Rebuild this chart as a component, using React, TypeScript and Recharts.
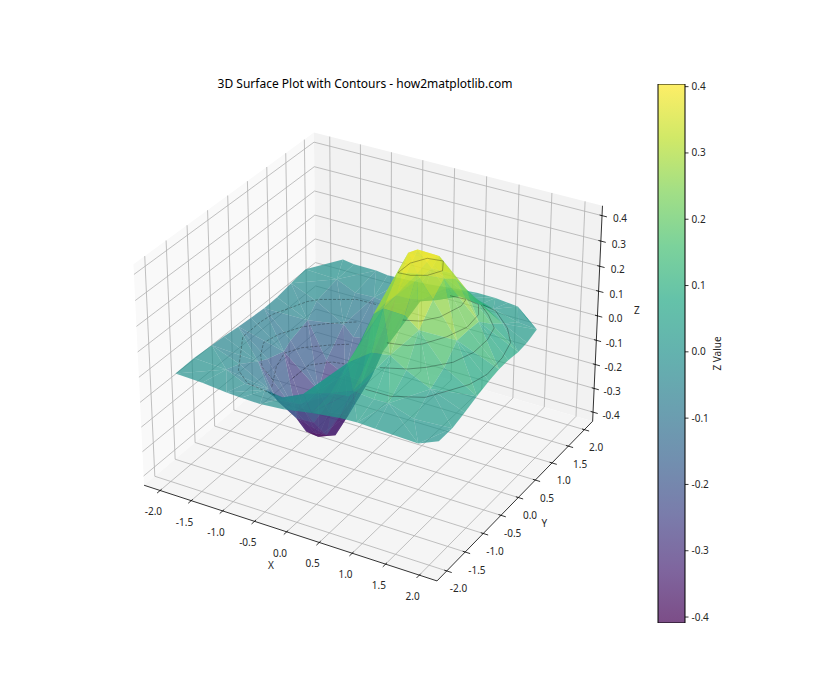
import {Bar, ComposedChart, Scatter, ScatterChart, XAxis, YAxis} from "recharts";

// axis limits and ticks
const xLim = [-2.26, 2.26]
const yLim = [-2.26, 2.26]
const zLim = [-0.4386, 0.4386]
const xyTicks = [-2, -1.5, -1, -0.5, 0, 0.5, 1, 1.5, 2]
const zTicks = [-0.4, -0.3, -0.2, -0.1, 0, 0.1, 0.2, 0.3, 0.4]
const barTicks = [-0.4, -0.3, -0.2, -0.1, 0, 0.1, 0.2, 0.3, 0.4]
const barRange = [-0.409, 0.404]

// surface vertices, one row per y band
const meshX = [
    [-1.9, -1.47, -1.08, -0.85, -0.55, -0.2, 0.2, 0.6, 0.85, 1.12, 1.75, 1.95],
    [-1.92, -1.43, -1.1, -0.82, -0.52, -0.23, 0.22, 0.53, 0.87, 1.06, 1.47, 1.96],
    [-1.93, -1.47, -1.06, -0.87, -0.57, -0.18, 0.18, 0.57, 0.83, 1.1, 1.43, 1.95],
    [-1.95, -1.43, -1.1, -0.83, -0.53, -0.22, 0.22, 0.53, 0.87, 1.06, 1.47, 1.94],
    [-1.95, -1.47, -1.06, -0.87, -0.57, -0.18, 0.18, 0.57, 0.83, 1.1, 1.43, 1.93],
    [-1.94, -1.43, -1.1, -0.8, -0.58, -0.22, 0.22, 0.53, 0.87, 1.06, 1.47, 1.92],
    [-1.92, -1.47, -1.06, -0.87, -0.57, -0.18, 0.18, 0.52, 0.83, 1.1, 1.43, 1.9],
    [-1.9, -1.43, -1.1, -0.83, -0.53, -0.22, 0.22, 0.53, 0.87, 1.06, 1.47, 1.87],
    [-1.91, -1.47, -1.06, -0.87, -0.57, -0.18, 0.18, 0.57, 0.83, 1.1, 1.43, 1.82],
    [-1.92, -1.43, -1.1, -0.83, -0.53, -0.22, 0.22, 0.53, 0.87, 1.06, 1.47, 1.73],
    [-1.6, -1.4, -1.05, -0.85, -0.55, -0.2, 0.2, 0.55, 0.85, 1.05, 1.21, 1.45],
]
const meshY = [
    [-1.93, -1.94, -1.96, -1.97, -1.98, -1.97, -1.92, -1.88, -1.86, -1.87, -1.87, -1.69],
    [-1.45, -1.42, -1.48, -1.43, -1.47, -1.42, -1.48, -1.43, -1.47, -1.42, -1.48, -1.35],
    [-1.0, -1.03, -0.97, -1.02, -0.98, -1.03, -0.97, -1.02, -0.98, -1.03, -0.97, -1.0],
    [-0.67, -0.63, -0.68, -0.64, -0.67, -0.63, -0.68, -0.64, -0.67, -0.63, -0.68, -0.65],
    [-0.3, -0.33, -0.28, -0.32, -0.28, -0.33, -0.28, -0.32, -0.28, -0.33, -0.27, -0.3],
    [0.01, 0.03, -0.02, -0.12, -0.02, 0.03, -0.02, 0.02, -0.01, 0.03, -0.02, 0.0],
    [0.32, 0.28, 0.33, 0.29, 0.32, 0.28, 0.33, 0.29, 0.32, 0.28, 0.33, 0.3],
    [0.63, 0.67, 0.62, 0.67, 0.63, 0.67, 0.62, 0.67, 0.63, 0.67, 0.62, 0.65],
    [1.02, 0.98, 1.03, 0.97, 1.02, 0.98, 1.03, 0.97, 1.02, 0.98, 1.03, 1.0],
    [1.43, 1.47, 1.42, 1.48, 1.43, 1.47, 1.42, 1.48, 1.43, 1.47, 1.42, 1.47],
    [1.93, 1.9, 1.92, 1.9, 1.91, 1.92, 1.93, 1.95, 1.93, 1.92, 1.91, 1.7],
]
const meshZ = [
    [-0.001, -0.004, -0.009, -0.011, -0.011, -0.005, 0.005, 0.011, 0.011, 0.009, 0.003, 0.002],
    [-0.004, -0.017, -0.04, -0.05, -0.052, -0.022, 0.024, 0.05, 0.05, 0.042, 0.021, 0.006],
    [-0.012, -0.049, -0.126, -0.15, -0.149, -0.07, 0.072, 0.148, 0.153, 0.122, 0.066, 0.019],
    [-0.02, -0.088, -0.218, -0.272, -0.264, -0.126, 0.124, 0.268, 0.27, 0.222, 0.115, 0.034],
    [-0.028, -0.12, -0.31, -0.375, -0.372, -0.174, 0.176, 0.37, 0.378, 0.305, 0.163, 0.046],
    [-0.03, -0.133, -0.334, -0.42, -0.409, -0.19, 0.193, 0.402, 0.404, 0.338, 0.176, 0.052],
    [-0.028, -0.122, -0.305, -0.378, -0.37, -0.176, 0.174, 0.382, 0.375, 0.31, 0.16, 0.047],
    [-0.02, -0.086, -0.222, -0.268, -0.268, -0.125, 0.127, 0.264, 0.272, 0.218, 0.118, 0.032],
    [-0.011, -0.05, -0.122, -0.153, -0.147, -0.072, 0.07, 0.15, 0.15, 0.126, 0.064, 0.02],
    [-0.004, -0.016, -0.042, -0.049, -0.05, -0.024, 0.022, 0.052, 0.05, 0.04, 0.023, 0.006],
    [-0.001, -0.004, -0.008, -0.011, -0.01, -0.005, 0.005, 0.01, 0.012, 0.009, 0.006, 0.003],
]

// contour lines: level, then x,y pairs along the line
const contours: {level: number, pts: number[][]}[] = [
    {level: -0.05, pts: [[-0.63, -1.48], [-1.11, -1.4], [-1.4, -1.17], [-1.83, -0.38], [-1.84, 0.09], [-1.81, 0.35], [-1.58, 0.91], [-1.46, 1.05], [-1.01, 1.31], [-0.68, 1.32]]},
    {level: -0.1, pts: [[-1.04, -0.88], [-1.35, -0.66], [-1.54, -0.39], [-1.68, -0.09], [-1.62, 0.21], [-1.45, 0.55], [-1.2, 0.8], [-0.85, 1.06]]},
    {level: -0.17, pts: [[-1.2, -0.66], [-1.43, -0.17], [-1.53, 0.2], [-1.4, 0.45], [-1.1, 0.71], [-0.87, 0.87]]},
    {level: -0.25, pts: [[-1.35, 0.12], [-1.34, 0.54], [-1.1, 0.78], [-0.92, 0.82]]},
    {level: 0.05, pts: [[0.65, -1.31], [1.02, -1.3], [1.42, -1.1], [1.59, -0.82], [1.76, -0.53], [1.84, -0.18], [1.81, 0.3], [1.72, 0.71], [1.5, 1.04], [1.14, 1.38], [0.91, 1.44]]},
    {level: 0.1, pts: [[0.7, -1.02], [1.03, -0.87], [1.22, -0.71], [1.46, -0.42], [1.57, -0.06], [1.57, 0.33], [1.5, 0.65], [1.27, 0.92], [1.05, 1.12]]},
    {level: 0.17, pts: [[0.69, -0.82], [0.96, -0.75], [1.11, -0.61], [1.29, -0.29], [1.4, 0.07], [1.37, 0.44], [1.24, 0.68], [1.05, 0.72]]},
    {level: 0.25, pts: [[0.84, -0.67], [1.05, -0.58], [1.22, -0.36], [1.32, 0.04], [1.29, 0.23], [1.06, 0.21]]},
    {level: 0.35, pts: [[0.5, -0.2], [0.51, 0.11], [0.64, 0.34], [0.86, 0.38], [0.98, 0.14], [0.87, -0.07], [0.68, -0.18], [0.5, -0.2]]},
]

const viridis = ["#440154", "#482475", "#414487", "#355f8d", "#2a788e", "#21918c", "#22a884", "#44bf70", "#7ad151", "#bddf26", "#fde725"]
const FONT = "'Noto Sans', sans-serif"

const hex = (c: string) => [1, 3, 5].map(i => parseInt(c.slice(i, i + 2), 16))

function cmap(t: number) {
    const v = Math.min(0.9999, Math.max(0, t)) * 10
    const i = Math.floor(v)
    const a = hex(viridis[i])
    const b = hex(viridis[i + 1])
    return `rgb(${a.map((n, k) => Math.round(n + (b[k] - n) * (v - i))).join(",")})`
}

// same view as a default 3D axes: elev 30, azim -60, camera distance 10
function project(x: number, y: number, z: number) {
    const bx = (x - (xLim[0] + xLim[1]) / 2) / (xLim[1] - xLim[0]) * 1.19
    const by = (y - (yLim[0] + yLim[1]) / 2) / (yLim[1] - yLim[0]) * 1.19
    const bz = (z - (zLim[0] + zLim[1]) / 2) / (zLim[1] - zLim[0]) * 0.893
    const xv = 0.866 * bx + 0.5 * by
    const yv = -0.25 * bx + 0.433 * by + 0.866 * bz
    const zv = 0.433 * bx - 0.75 * by + 0.5 * bz
    return {px: 372.5 + 2820 * xv / (10 - zv), py: 346 - 2820 * yv / (10 - zv), depth: zv}
}

const NoDot = () => null

function path(key: string, pts: number[][], line: any, closed = false) {
    return (
        <Scatter
            key={key}
            data={pts.map(p => project(p[0], p[1], p[2]))}
            isAnimationActive={false}
            legendType="none"
            line={line}
            lineJointType={closed ? "linearClosed" : "linear"}
            shape={NoDot}
        />
    )
}

function TextMark(props: any) {
    const {cx, cy, payload} = props
    return (
        <text dominantBaseline="central" fill="#262626" fontFamily={FONT} fontSize={payload.size} textAnchor="middle" x={cx + payload.dx} y={cy + payload.dy}>
            {payload.label}
        </text>
    )
}

function textMarks(key: string, items: {at: number[], label: string, dx: number, dy: number, size: number}[]) {
    return (
        <Scatter
            key={key}
            data={items.map(t => ({...project(t.at[0], t.at[1], t.at[2]), label: t.label, dx: t.dx, dy: t.dy, size: t.size}))}
            isAnimationActive={false}
            legendType="none"
            shape={TextMark}
        />
    )
}

// surface triangles, far ones first
const triangles: {depth: number, pts: number[][], color: string}[] = []
for (let r = 0; r < meshX.length - 1; r++) {
    for (let c = 0; c < meshX[r].length - 1; c++) {
        const v = (i: number, j: number) => [meshX[i][j], meshY[i][j], meshZ[i][j]]
        const quad = [v(r, c), v(r, c + 1), v(r + 1, c + 1), v(r + 1, c)]
        const tris = (r + c) % 2 === 0
            ? [[quad[0], quad[1], quad[2]], [quad[0], quad[2], quad[3]]]
            : [[quad[0], quad[1], quad[3]], [quad[1], quad[2], quad[3]]]
        tris.forEach(t => {
            const avg = (t[0][2] + t[1][2] + t[2][2]) / 3
            const depth = t.reduce((s, p) => s + project(p[0], p[1], p[2]).depth, 0) / 3
            triangles.push({depth, pts: t, color: cmap((avg - barRange[0]) / (barRange[1] - barRange[0]))})
        })
    }
}
triangles.sort((a, b) => a.depth - b.depth)

const gridLine = {stroke: "#b0b0b0", strokeWidth: 0.8, fill: "none"}
const axisLine = {stroke: "#000", strokeWidth: 0.8, fill: "none"}
const tickLen = 0.073
const tickIn = 0.037
const fmt = (t: number) => t.toFixed(1)
const [x0, x1] = xLim
const [y0, y1] = yLim
const [z0, z1] = zLim

export default function App() {
    return (
        <div style={{position: "absolute", left: 0, top: 0, width: 840, height: 700, background: "#fff"}}>
            <div style={{position: "absolute", left: 0, top: 0}}>
                <ScatterChart height={700} margin={{top: 0, right: 0, bottom: 0, left: 0}} width={840}>
                    <XAxis allowDataOverflow dataKey="px" domain={[0, 840]} hide type="number"/>
                    <YAxis allowDataOverflow dataKey="py" domain={[0, 700]} hide reversed type="number"/>
                    {path("pane-x", [[x0, y0, z0], [x0, y1, z0], [x0, y1, z1], [x0, y0, z1]], {fill: "#f9f9f9", stroke: "none"}, true)}
                    {path("pane-y", [[x0, y1, z0], [x1, y1, z0], [x1, y1, z1], [x0, y1, z1]], {fill: "#f2f2f2", stroke: "none"}, true)}
                    {path("pane-z", [[x0, y0, z0], [x1, y0, z0], [x1, y1, z0], [x0, y1, z0]], {fill: "#f5f5f5", stroke: "none"}, true)}
                    {xyTicks.map(t => path(`gx${t}`, [[t, y0, z0], [t, y1, z0], [t, y1, z1]], gridLine))}
                    {xyTicks.map(t => path(`gy${t}`, [[x1, t, z0], [x0, t, z0], [x0, t, z1]], gridLine))}
                    {zTicks.map(t => path(`gz${t}`, [[x0, y0, t], [x0, y1, t], [x1, y1, t]], gridLine))}
                    {path("axis-x", [[x0, y0, z0], [x1, y0, z0]], axisLine)}
                    {path("axis-y", [[x1, y0, z0], [x1, y1, z0]], axisLine)}
                    {path("axis-z", [[x1, y1, z0], [x1, y1, z1]], axisLine)}
                    {xyTicks.map(t => path(`tx${t}`, [[t, y0 + tickIn, z0], [t, y0 - tickLen, z0]], axisLine))}
                    {xyTicks.map(t => path(`ty${t}`, [[x1 - tickIn, t, z0], [x1 + tickLen, t, z0]], axisLine))}
                    {zTicks.map(t => path(`tz${t}`, [[x1 - tickIn, y1, t], [x1 + tickLen, y1, t]], axisLine))}
                    {triangles.map((t, i) => path(`tri${i}`, t.pts, {fill: t.color, fillOpacity: 0.7, stroke: "none"}, true))}
                    {contours.map((c, i) => path(
                        `ct${i}`,
                        c.pts.map(p => [p[0], p[1], c.level]),
                        {stroke: "#000", strokeOpacity: 0.42, strokeWidth: 0.7, fill: "none", strokeDasharray: c.level < 0 ? "3 1.5" : undefined}
                    ))}
                    {textMarks("x-labels", xyTicks.map(t => ({at: [t, y0, z0], label: fmt(t), dx: -6.7, dy: 21, size: 10})))}
                    {textMarks("y-labels", xyTicks.map(t => ({at: [x1, t, z0], label: fmt(t), dx: 11.7, dy: 17.5, size: 10})))}
                    {textMarks("z-labels", zTicks.map(t => ({at: [x1, y1, t], label: fmt(t), dx: 18, dy: 2.5, size: 10})))}
                    {textMarks("axis-labels", [
                        {at: [0, y0, z0], label: "X", dx: -15.7, dy: 33, size: 10},
                        {at: [x1, 0, z0], label: "Y", dx: 26, dy: 25.5, size: 10},
                        {at: [x1, y1, 0], label: "Z", dx: 39.4, dy: -6, size: 10},
                    ])}
                    <text dominantBaseline="central" fill="#000" fontFamily={FONT} fontSize={12} textAnchor="middle" x={365} y={83}>
                        3D Surface Plot with Contours - how2matplotlib.com
                    </text>
                </ScatterChart>
            </div>
            <div style={{position: "absolute", left: 0, top: 0}}>
                <ComposedChart
                    barCategoryGap={0}
                    data={[{name: "bar", range: barRange}]}
                    height={700}
                    margin={{top: 84, right: 0, bottom: 77, left: 658}}
                    width={840}
                >
                    <defs>
                        <linearGradient id="cbGrad" x1="0" x2="0" y1="1" y2="0">
                            {viridis.map((c, i) => <stop key={c} offset={i / 10} stopColor={c} stopOpacity={0.7}/>)}
                        </linearGradient>
                    </defs>
                    <XAxis dataKey="name" hide/>
                    <YAxis
                        allowDataOverflow
                        axisLine={false}
                        domain={barRange}
                        label={{value: "Z Value", angle: -90, position: "center", dx: -45, fill: "#262626", fontFamily: FONT, fontSize: 10}}
                        orientation="right"
                        tick={{fill: "#262626", fontFamily: FONT, fontSize: 10}}
                        tickFormatter={fmt}
                        tickLine={{stroke: "#000", strokeWidth: 0.8}}
                        tickMargin={3}
                        tickSize={3.5}
                        ticks={barTicks}
                        type="number"
                        width={155}
                    />
                    <Bar dataKey="range" fill="url(#cbGrad)" isAnimationActive={false} stroke="#000" strokeWidth={1}/>
                </ComposedChart>
            </div>
        </div>
    )
}
